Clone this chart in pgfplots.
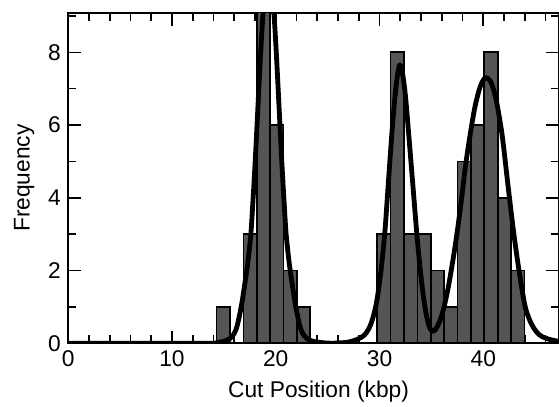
\documentclass[border=0pt]{standalone}
\usepackage{fontspec}
\setmainfont{Liberation Sans}
\usepackage{pgfplots}
\pgfplotsset{compat=1.18}
\usetikzlibrary{calc}
\definecolor{barfill}{HTML}{555555}

\begin{document}
\begin{tikzpicture}
\begin{axis}[
  name=ax,
  scale only axis,
  width=366.75pt, height=246.75pt,
  xmin=0, xmax=47.3, ymin=0, ymax=9.08,
  xtick={0,10,...,40}, minor xtick={2,4,...,46},
  ytick={0,2,...,8}, minor ytick={1,3,...,9},
  tick align=inside,
  major tick length=9.5pt, minor tick length=6pt,
  tick style={line width=1.2pt, black},
  axis line style={line width=1.5pt},
  tick label style={font=\fontsize{17}{19}\selectfont},
  label style={font=\fontsize{17}{19}\selectfont},
  /pgf/number format/assume math mode=true,
  xlabel={Cut Position (kbp)},
  ylabel={Frequency},
  xlabel style={at={(axis description cs:0.51,-0.146)}, anchor=center},
  ylabel style={at={(axis description cs:-0.09,0.5)}, anchor=center},
  xticklabel style={yshift=-2pt},
  yticklabel style={xshift=-2pt},
]
% histogram, bins of about 1.29 kbp
\addplot[ybar interval, fill=barfill, draw=black, line width=1.3pt]
  coordinates {(14.30,1) (15.59,0) (16.88,3) (18.17,10) (19.46,6) (20.75,2) (22.04,1) (23.33,0)};
\addplot[ybar interval, fill=barfill, draw=black, line width=1.3pt]
  coordinates {(29.78,3) (31.07,8) (32.36,3) (33.65,3) (34.94,2) (36.23,1)
               (37.52,5) (38.81,6) (40.10,8) (41.39,4) (42.68,2) (43.97,0)};
% fitted curve
\addplot[black, line width=3.6pt, smooth, tension=0.5, line join=round] coordinates {
  (0,0) (13.3,0) (14.3,0.02) (15.1,0.06) (15.6,0.13) (16.0,0.27) (16.3,0.5)
  (16.7,1.05) (17.0,1.6) (17.3,2.2) (17.6,3.0) (17.8,3.9) (18.0,4.9) (18.3,6.6)
  (18.55,8.0) (18.78,9.07) (19.05,9.6) (19.3,9.8) (19.55,9.6) (19.82,9.07)
  (20.05,8.0) (20.3,6.6) (20.6,4.9) (20.8,3.9) (21.0,3.0) (21.3,2.2) (21.6,1.6)
  (21.9,1.05) (22.3,0.5) (22.6,0.27) (23.0,0.13) (23.5,0.06) (24.3,0.02)
  (25.3,0) (26.2,0.01) (27,0.03) (27.8,0.1) (28.6,0.24) (29.2,0.55) (29.7,1.1)
  (30.1,1.9) (30.5,3.0) (30.85,4.4) (31.2,5.8) (31.5,6.8) (31.75,7.4)
  (31.95,7.65) (32.2,7.45) (32.5,6.8) (32.8,5.8) (33.2,4.4) (33.6,3.0)
  (33.9,2.1) (34.2,1.35) (34.5,0.8) (34.8,0.45) (35.1,0.33) (35.4,0.38)
  (35.8,0.6) (36.2,0.97) (36.6,1.5) (37.0,2.15) (37.46,3.0) (37.9,3.95)
  (38.3,4.9) (38.75,5.76) (39.2,6.5) (39.7,7.05) (40.2,7.3) (40.7,7.2)
  (41.2,6.75) (41.8,5.76) (42.4,4.3) (42.95,3.0) (43.5,1.9) (44.07,0.97)
  (44.7,0.5) (45.37,0.24) (46.2,0.12) (47.3,0.05)};
\end{axis}
\pgfresetboundingbox
\path[use as bounding box] ($(ax.south west)+(-51pt,-47.25pt)$) rectangle ($(ax.north east)+(0pt,9.75pt)$);
\end{tikzpicture}
\end{document}
